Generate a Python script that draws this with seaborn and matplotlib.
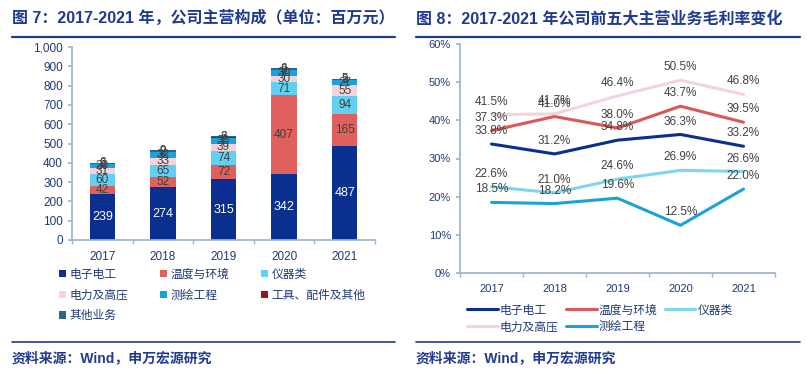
import matplotlib
matplotlib.use('Agg')
import matplotlib.pyplot as plt
import seaborn as sns
import pandas as pd
import numpy as np
from matplotlib.lines import Line2D
from matplotlib.patches import Patch
from matplotlib.ticker import FuncFormatter, MultipleLocator

sns.set_theme(style='white')
plt.rcParams['font.family'] = ['Liberation Sans', 'Noto Sans CJK SC', 'DejaVu Sans']

# --- data: left chart (百万元) ---
years = ['2017', '2018', '2019', '2020', '2021']
seg_names = ['电子电工', '温度与环境', '仪器类', '电力及高压', '测绘工程', '工具、配件及其他', '其他业务']
seg_electric = [239, 274, 315, 342, 487]
seg_temp = [42, 52, 72, 407, 165]
seg_instr = [60, 65, 74, 71, 94]
seg_power = [31, 33, 39, 30, 55]
seg_survey = [20, 32, 30, 30, 27]
seg_tools = [2, 2, 3, 3, 3]
seg_other = [6, 9, 6, 6, 5]
seg_colors = ['#0B2F8F', '#E0605E', '#62D0F0', '#F6D3D8', '#1AA3DA', '#A0101A', '#2E6585']

# --- data: right chart (毛利率 %) ---
line_names = ['电子电工', '温度与环境', '仪器类', '电力及高压', '测绘工程']
gm_electric = [33.8, 31.2, 34.8, 36.3, 33.2]
gm_temp = [37.3, 41.0, 38.0, 43.7, 39.5]
gm_instr = [22.6, 21.0, 24.6, 26.9, 26.6]
gm_power = [41.5, 41.7, 46.4, 50.5, 46.8]
gm_survey = [18.5, 18.2, 19.6, 12.5, 22.0]
line_colors = ['#0B2F8F', '#D9585A', '#7FD6EE', '#F6D3D8', '#1AA3DA']

navy = '#1F3A8F'
tick_c = '#1F3A7A'
spine_c = '#9DB3D0'
lab_c = '#404040'

W, H = 807, 375
fig = plt.figure(figsize=(W / 100, H / 100), dpi=100)

def fx(px):
    return px / W

def fy(py):
    return 1 - py / H

# titles, rules, sources
for x0, x1, title in [(12, 395, '图 7：2017-2021 年，公司主营构成（单位：百万元）'),
                      (416, 800, '图 8：2017-2021 年公司前五大主营业务毛利率变化')]:
    fig.text(fx(x0), fy(18), title, fontsize=11.5, fontweight='bold', color=navy,
             va='center', ha='left')
    fig.add_artist(Line2D([fx(x0), fx(x1)], [fy(37), fy(37)], color=navy, lw=1.6))
    fig.add_artist(Line2D([fx(x0), fx(x1)], [fy(342), fy(342)], color=navy, lw=1.2))
    fig.text(fx(x0), fy(358), '资料来源：Wind，申万宏源研究', fontsize=10, fontweight='bold',
             color=navy, va='center', ha='left')

# ---------------- left: stacked bars ----------------
ax1 = fig.add_axes([fx(72), fy(240), fx(375) - fx(72), fy(47) - fy(240)])
segs = [seg_electric, seg_temp, seg_instr, seg_power, seg_survey, seg_tools, seg_other]
df_bar = pd.DataFrame({'year': years})
bottom = np.zeros(len(years))
for name, vals, col in zip(seg_names, segs, seg_colors):
    df_bar[name] = vals
    sns.barplot(data=df_bar, x='year', y=name, color=col, bottom=bottom, width=0.42,
                ax=ax1, saturation=1, edgecolor='none')
    cont = ax1.containers[-1]
    txt_c = 'white' if name == '电子电工' else lab_c
    ax1.bar_label(cont, labels=[str(v) for v in vals], label_type='center',
                  fontsize=9 if name == '电子电工' else 8.5, color=txt_c)
    bottom = bottom + np.array(vals)

ax1.set_ylim(0, 1000)
ax1.set_xlim(-0.5, 4.5)
ax1.yaxis.set_major_locator(MultipleLocator(100))
ax1.yaxis.set_major_formatter(FuncFormatter(lambda v, p: f'{int(v):,}'))
ax1.set_xlabel('')
ax1.set_ylabel('')
for s in ['top', 'right']:
    ax1.spines[s].set_visible(False)
for s in ['left', 'bottom']:
    ax1.spines[s].set_color(spine_c)
ax1.tick_params(axis='y', labelsize=8.5, colors=tick_c, length=3, color=spine_c, left=True)
ax1.tick_params(axis='x', labelsize=8.5, colors=tick_c, length=0, pad=8)
ax1.set_xticks(range(len(years)))
ax1.set_xticklabels(years)
ax1.set_xticks(np.arange(-0.5, 5, 1), minor=True)
ax1.tick_params(axis='x', which='minor', length=3, color=spine_c, bottom=True)

# legend filled row by row (matplotlib fills columns first)
order1 = [0, 3, 6, 1, 4, 2, 5]
handles1 = [Patch(facecolor=seg_colors[i], edgecolor='none') for i in order1]
fig.legend(handles1, [seg_names[i] for i in order1], loc='upper left',
           bbox_to_anchor=(fx(48), fy(258)),
           ncol=3, frameon=False, fontsize=8.5, handlelength=0.6, handleheight=0.6,
           handletextpad=0.3, columnspacing=2.7, labelspacing=0.75,
           labelcolor=tick_c)

# ---------------- right: lines ----------------
ax2 = fig.add_axes([fx(460), fy(273), fx(775) - fx(460), fy(44) - fy(273)])
gms = [gm_electric, gm_temp, gm_instr, gm_power, gm_survey]
df_line = pd.DataFrame({
    'x': list(range(len(years))) * len(line_names),
    'gm': sum(gms, []),
    'name': sum([[n] * len(years) for n in line_names], []),
})
draw_order = ['电力及高压', '仪器类', '测绘工程', '温度与环境', '电子电工']
for n in draw_order:
    i = line_names.index(n)
    sns.lineplot(data=df_line[df_line['name'] == n], x='x', y='gm', color=line_colors[i],
                 lw=2.2, ax=ax2, legend=False)
for vals in gms:
    for xi, v in enumerate(vals):
        ax2.annotate(f'{v:.1f}%', (xi, v), xytext=(0, 5), textcoords='offset points',
                     ha='center', va='bottom', fontsize=8.5, color=lab_c)

ax2.set_ylim(0, 60)
ax2.set_xlim(-0.5, 4.5)
ax2.yaxis.set_major_locator(MultipleLocator(10))
ax2.yaxis.set_major_formatter(FuncFormatter(lambda v, p: f'{int(v)}%'))
ax2.set_xlabel('')
ax2.set_ylabel('')
for s in ['top', 'right']:
    ax2.spines[s].set_visible(False)
for s in ['left', 'bottom']:
    ax2.spines[s].set_color(spine_c)
ax2.tick_params(axis='y', labelsize=8, colors=tick_c, length=3, color=spine_c, left=True)
ax2.set_xticks(range(len(years)))
ax2.set_xticklabels(years)
ax2.tick_params(axis='x', labelsize=8, colors=tick_c, length=0, pad=8)
ax2.set_xticks(np.arange(-0.5, 5, 1), minor=True)
ax2.tick_params(axis='x', which='minor', length=3, color=spine_c, bottom=True)

order2 = [0, 3, 1, 4, 2]
handles2 = [Line2D([0], [0], color=line_colors[i], lw=2.2) for i in order2]
fig.legend(handles2, [line_names[i] for i in order2], loc='upper center',
           bbox_to_anchor=(fx(600), fy(294)),
           ncol=3, frameon=False, fontsize=8.5, handlelength=2.6, handletextpad=0.2,
           columnspacing=0.6, labelspacing=0.4, labelcolor=tick_c)

fig.savefig('out.png', dpi=100)
